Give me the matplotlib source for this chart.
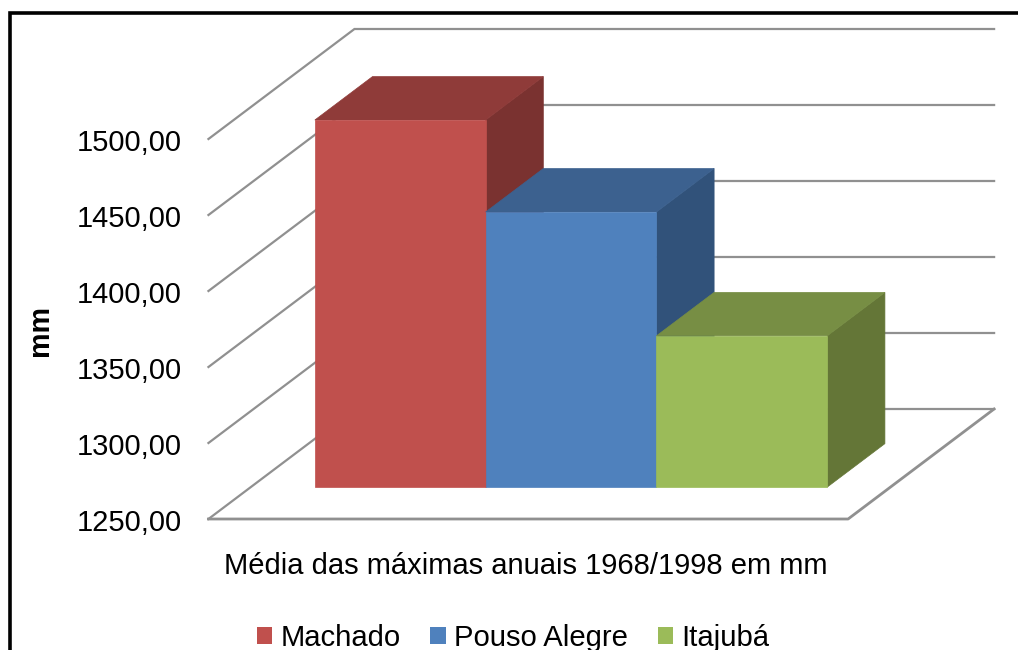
import matplotlib
matplotlib.use('Agg')
import matplotlib.pyplot as plt
from matplotlib.lines import Line2D
from matplotlib.patches import Patch, Polygon
from matplotlib.ticker import FuncFormatter
from matplotlib.transforms import ScaledTranslation

cities = ['Machado', 'Pouso Alegre', 'Itajubá']
rainfall = [1491.5, 1431.0, 1349.5]
front_colors = ['#C0504D', '#4F81BD', '#9BBB59']
top_colors = ['#8F3B39', '#3C618F', '#778E44']
side_colors = ['#7A3230', '#31527A', '#647637']
y_ticks = [1250, 1300, 1350, 1400, 1450, 1500]

W, H = 1018, 650
# one category is about 171 px wide, 50 mm is 76 px tall
CAT_PX = 170.8
MM_PX = 76.0 / 50.0
BASE = 1250
# shift of the full floor depth, in axis units
DEPTH_X = 146.0 / CAT_PX
DEPTH_Y = 110.0 / MM_PX
FLOOR_L, FLOOR_R = -0.375, 3.37
BAR_D0, BAR_D1 = 0.29, 0.685
GRID = '#909090'

plt.rcParams['font.family'] = ['Liberation Sans', 'DejaVu Sans']

fig = plt.figure(figsize=(W / 100, H / 100), dpi=100)
ax = fig.add_axes([0, 0, 1, 1])
ax.set_xlim(-272.5 / CAT_PX, (W - 272.5) / CAT_PX)
ax.set_ylim(BASE - (H - 519) / MM_PX, BASE + 519 / MM_PX)


def project(c, v, d):
    return c + d * DEPTH_X, v + d * DEPTH_Y


def box(i, val):
    p = project
    l, r = i, i + 1
    side = [p(r, BASE, BAR_D0), p(r, val, BAR_D0), p(r, val, BAR_D1), p(r, BASE, BAR_D1)]
    top = [p(l, val, BAR_D0), p(r, val, BAR_D0), p(r, val, BAR_D1), p(l, val, BAR_D1)]
    front = [p(l, BASE, BAR_D0), p(r, BASE, BAR_D0), p(r, val, BAR_D0), p(l, val, BAR_D0)]
    ax.add_patch(Polygon(side, fc=side_colors[i], ec=side_colors[i], lw=0.5, zorder=3))
    ax.add_patch(Polygon(top, fc=top_colors[i], ec=top_colors[i], lw=0.5, zorder=3))
    ax.add_patch(Polygon(front, fc=front_colors[i], ec=front_colors[i], lw=0.5, zorder=3))


# walls: each tick runs back along the left side, then across the back
for t in y_ticks:
    pts = [project(FLOOR_L, t, 0), project(FLOOR_L, t, 1), project(FLOOR_R, t, 1)]
    ax.plot(*zip(*pts), color=GRID, lw=1.6, zorder=1, solid_joinstyle='miter')

# floor edges
floor = [project(FLOOR_L, BASE, 0), project(FLOOR_R, BASE, 0), project(FLOOR_R, BASE, 1)]
ax.plot(*zip(*floor), color=GRID, lw=2.0, zorder=1)

for i, val in enumerate(rainfall):
    box(i, val)

for s in ax.spines.values():
    s.set_visible(False)
ax.spines['left'].set_position(('data', FLOOR_L))
ax.set_xticks([])
ax.set_yticks(y_ticks)
ax.yaxis.set_major_formatter(FuncFormatter(lambda v, pos: f'{v:.2f}'.replace('.', ',')))
ax.tick_params(axis='y', length=0, pad=19, labelsize=21, labelcolor='black')
# labels sit slightly below their gridline
nudge = ScaledTranslation(0, -1.0 / 72, fig.dpi_scale_trans)
for lab in ax.get_yticklabels():
    lab.set_transform(lab.get_transform() + nudge)

fig.text(40 / W, 1 - 331 / H, 'mm', rotation=90, ha='center', va='center',
         fontsize=20.7, fontweight='bold')
fig.text(526 / W, 1 - 566 / H, 'Média das máximas anuais 1968/1998 em mm',
         ha='center', va='center', fontsize=21)

handles = [Patch(fc=c, ec=c, lw=0) for c in front_colors]
fig.legend(handles, cities, loc='lower left', bbox_to_anchor=(257 / W, 1 - 652 / H),
           ncol=3, frameon=False, fontsize=21.1, borderpad=0, borderaxespad=0,
           handlelength=0.52, handleheight=0.54, handletextpad=0.27, columnspacing=1.03)

# outer frame, open on the right and at the bottom
fig.add_artist(Line2D([10 / W, 10 / W, 1], [0, 1 - 12.5 / H, 1 - 12.5 / H],
                      color='black', lw=2.6, solid_joinstyle='miter'))

fig.savefig('out.png', dpi=100)
